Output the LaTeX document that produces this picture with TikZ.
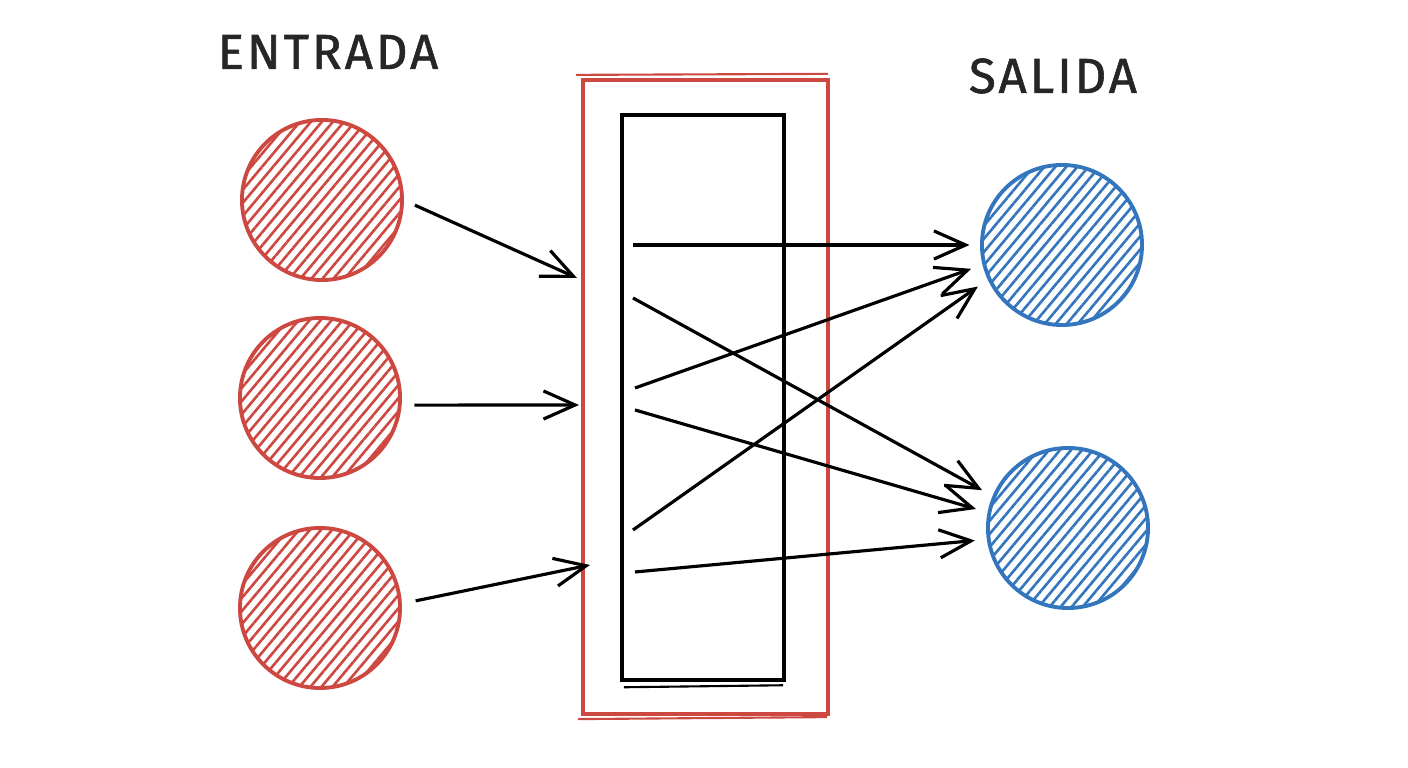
\documentclass[tikz,border=0pt]{standalone}
\usepackage{fontspec}
\newfontfamily\rotfont[LetterSpace=6, FakeBold=1.2]{Fira Sans}
\usetikzlibrary{arrows.meta, patterns.meta}
\definecolor{rojo}{RGB}{206,72,66}
\definecolor{azul}{RGB}{52,118,190}
\begin{document}
\begin{tikzpicture}[x=0.01cm, y=-0.01cm,
        entrada/.style={circle, draw=rojo, line width=1.1pt, minimum size=1.6cm,
            pattern={Lines[angle=50, distance=2.4pt, line width=0.75pt]}, pattern color=rojo},
        salida/.style={entrada, draw=azul, pattern color=azul},
        flecha/.style={-{Straight Barb[length=9pt, width=8pt, line width=0.9pt]}, line width=0.9pt},
        rotulo/.style={font=\rotfont\fontsize{14}{16}\selectfont, text=black!85}]
        \useasboundingbox (0, 0) rectangle (1408, 768);
        % rotulos
        \node[rotulo] (tent) at (328, 52) {ENTRADA};
        \node[rotulo] (tsal) at (1053, 76) {SALIDA};
        % capas
        \node[entrada] (in1) at (322, 200) {};
        \node[entrada] (in2) at (320, 398) {};
        \node[entrada] (in3) at (320, 608) {};
        \node[salida] (out1) at (1062, 245) {};
        \node[salida] (out2) at (1068, 528) {};
        % caja central
        \node[draw=rojo, line width=1.1pt, minimum width=2.45cm, minimum height=6.34cm, inner sep=0] (caja) at (705.5, 397) {};
        \draw[rojo, line width=0.6pt] ([shift={(-5, -3)}]caja.north west) -- ([shift={(-2, -4)}]caja.north east);
        \draw[rojo, line width=0.6pt] ([shift={(-3, 3)}]caja.south west) -- ([shift={(-3, 1)}]caja.south east);
        \node[draw, line width=1.2pt, minimum width=1.62cm, minimum height=5.65cm, inner sep=0] (nucleo) at (703, 397.5) {};
        \draw[line width=0.6pt] ([shift={(4, 5)}]nucleo.south west) -- ([shift={(-3, 3)}]nucleo.south east);
        % entradas
        \coordinate (e1) at (577, 278);
        \coordinate (e2) at (579, 405);
        \coordinate (e3) at (590, 565);
        \draw[flecha, shorten <=3.6pt] (in1.east) -- (e1);
        \draw[flecha, shorten <=3.6pt] (in2.-5) -- (e2);
        \draw[flecha, shorten <=4pt] (in3.3) -- (e3);
        % conexiones
        \coordinate (s1) at (633, 245);
        \coordinate (s2) at (633, 298);
        \coordinate (s3) at (635, 388);
        \coordinate (s4) at (635, 410);
        \coordinate (s5) at (633, 530);
        \coordinate (s6) at (635, 572);
        \draw[flecha, shorten >=3pt] (s1) -- (out1.180);
        \draw[flecha, shorten >=3.4pt] (s3) -- (out1.194);
        \draw[flecha, shorten >=3.4pt] (s5) -- (out1.205);
        \draw[flecha, shorten >=3.4pt] (s2) -- (out2.157);
        \draw[flecha, shorten >=3.4pt] (s4) -- (out2.169);
        \draw[flecha, shorten >=3.4pt] (s6) -- (out2.188);
    \end{tikzpicture}
\end{document}
